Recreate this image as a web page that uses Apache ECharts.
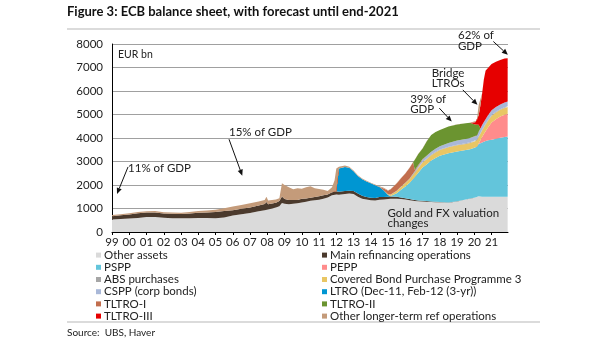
<!DOCTYPE html>
<html>
<head>
<meta charset="utf-8">
<script src="https://cdn.jsdelivr.net/npm/echarts@6/dist/echarts.min.js"></script>
<style>
html, body { margin: 0; padding: 0; background: #fff; }
#chart { width: 605px; height: 341px; }
</style>
</head>
<body>
<div id="chart"></div>
<script>
// Time points (decimal years) shared by every stacked layer
const years = [1999, 1999.5, 2000, 2000.5, 2001, 2001.5, 2002, 2002.5, 2003, 2003.5,
  2004, 2004.5, 2005, 2005.5, 2006, 2006.5, 2007, 2007.5, 2007.85, 2007.95,
  2008.05, 2008.5, 2008.7, 2008.85, 2009, 2009.25, 2009.5, 2009.75, 2010, 2010.25,
  2010.5, 2010.75, 2011, 2011.25, 2011.5, 2011.75, 2011.9, 2012, 2012.15, 2012.5,
  2012.75, 2013, 2013.25, 2013.5, 2013.75, 2014, 2014.25, 2014.5, 2014.75, 2015,
  2015.15, 2015.5, 2015.75, 2016, 2016.25, 2016.45, 2016.55, 2016.75, 2017, 2017.25,
  2017.5, 2017.75, 2018, 2018.5, 2019, 2019.5, 2019.75, 2020.05, 2020.15, 2020.25,
  2020.35, 2020.45, 2020.55, 2020.65, 2020.8, 2021, 2021.25, 2021.5, 2021.75, 2021.93];

// Balance sheet components, EUR bn
const otherAssets = [530, 550, 570, 600, 640, 640, 610, 590, 580, 590,
  600, 600, 590, 620, 700, 760, 810, 880, 930, 950,
  960, 1040, 1100, 1230, 1200, 1180, 1200, 1220, 1260, 1290,
  1330, 1350, 1370, 1420, 1470, 1560, 1600, 1600, 1590, 1620,
  1640, 1620, 1500, 1420, 1380, 1350, 1340, 1370, 1380, 1400,
  1420, 1420, 1400, 1380, 1350, 1330, 1320, 1310, 1300, 1290,
  1280, 1270, 1270, 1250, 1300, 1380, 1420, 1470, 1480, 1520,
  1510, 1500, 1500, 1500, 1500, 1500, 1500, 1500, 1500, 1500];
const mainRefi = [140, 160, 180, 200, 190, 190, 180, 190, 190, 200,
  220, 230, 260, 270, 230, 230, 230, 250, 260, 330,
  220, 200, 220, 280, 200, 180, 160, 140, 150, 140,
  130, 140, 150, 140, 130, 130, 140, 140, 120, 130,
  120, 130, 140, 120, 110, 110, 110, 120, 110, 100,
  90, 80, 70, 60, 50, 45, 40, 35, 30, 25,
  20, 15, 10, 8, 8, 6, 5, 3, 2, 1,
  1, 1, 1, 1, 1, 1, 1, 1, 1, 1];
const ltro3y = [0, 0, 0, 0, 0, 0, 0, 0, 0, 0,
  0, 0, 0, 0, 0, 0, 0, 0, 0, 0,
  0, 0, 0, 0, 0, 0, 0, 0, 0, 0,
  0, 0, 0, 0, 0, 0, 0, 0, 990, 1020,
  970, 830, 740, 700, 660, 610, 540, 430, 280, 70,
  0, 0, 0, 0, 0, 0, 0, 0, 0, 0,
  0, 0, 0, 0, 0, 0, 0, 0, 0, 0,
  0, 0, 0, 0, 0, 0, 0, 0, 0, 0];
const pspp = [0, 0, 0, 0, 0, 0, 0, 0, 0, 0,
  0, 0, 0, 0, 0, 0, 0, 0, 0, 0,
  0, 0, 0, 0, 0, 0, 0, 0, 0, 0,
  0, 0, 0, 0, 0, 0, 0, 0, 0, 0,
  0, 0, 0, 0, 0, 0, 0, 0, 0, 0,
  20, 150, 330, 500, 700, 900, 980, 1180, 1420, 1570,
  1740, 1860, 1960, 2090, 2120, 2100, 2100, 2120, 2150, 2220,
  2270, 2310, 2340, 2370, 2400, 2420, 2470, 2510, 2540, 2560];
const pepp = [0, 0, 0, 0, 0, 0, 0, 0, 0, 0,
  0, 0, 0, 0, 0, 0, 0, 0, 0, 0,
  0, 0, 0, 0, 0, 0, 0, 0, 0, 0,
  0, 0, 0, 0, 0, 0, 0, 0, 0, 0,
  0, 0, 0, 0, 0, 0, 0, 0, 0, 0,
  0, 0, 0, 0, 0, 0, 0, 0, 0, 0,
  0, 0, 0, 0, 0, 0, 0, 0, 0, 30,
  120, 230, 330, 420, 560, 740, 830, 900, 950, 970];
const cbpp3 = [0, 0, 0, 0, 0, 0, 0, 0, 0, 0,
  0, 0, 0, 0, 0, 0, 0, 0, 0, 0,
  0, 0, 0, 0, 0, 0, 0, 0, 0, 0,
  0, 0, 0, 0, 0, 0, 0, 0, 0, 0,
  0, 0, 0, 0, 0, 0, 0, 0, 0, 40,
  60, 100, 120, 140, 160, 175, 180, 195, 210, 220,
  230, 240, 245, 255, 262, 262, 263, 265, 268, 272,
  276, 278, 280, 282, 284, 286, 287, 288, 289, 290];
const absPurchases = [0, 0, 0, 0, 0, 0, 0, 0, 0, 0,
  0, 0, 0, 0, 0, 0, 0, 0, 0, 0,
  0, 0, 0, 0, 0, 0, 0, 0, 0, 0,
  0, 0, 0, 0, 0, 0, 0, 0, 0, 0,
  0, 0, 0, 0, 0, 0, 0, 0, 0, 0,
  5, 10, 12, 15, 18, 20, 20, 22, 23, 24,
  25, 25, 26, 27, 27, 27, 27, 27, 28, 29,
  29, 29, 29, 29, 29, 29, 29, 29, 29, 29];
const cspp = [0, 0, 0, 0, 0, 0, 0, 0, 0, 0,
  0, 0, 0, 0, 0, 0, 0, 0, 0, 0,
  0, 0, 0, 0, 0, 0, 0, 0, 0, 0,
  0, 0, 0, 0, 0, 0, 0, 0, 0, 0,
  0, 0, 0, 0, 0, 0, 0, 0, 0, 0,
  0, 0, 0, 0, 0, 20, 40, 70, 100, 115,
  125, 135, 140, 160, 175, 178, 180, 185, 190, 195,
  200, 200, 200, 200, 200, 200, 200, 200, 200, 200];
const tltro1 = [0, 0, 0, 0, 0, 0, 0, 0, 0, 0,
  0, 0, 0, 0, 0, 0, 0, 0, 0, 0,
  0, 0, 0, 0, 0, 0, 0, 0, 0, 0,
  0, 0, 0, 0, 0, 0, 0, 0, 0, 0,
  0, 0, 0, 0, 0, 0, 0, 0, 80, 150,
  220, 300, 350, 390, 460, 480, 60, 40, 20, 10,
  0, 0, 0, 0, 0, 0, 0, 0, 0, 0,
  0, 0, 0, 0, 0, 0, 0, 0, 0, 0];
const tltro2 = [0, 0, 0, 0, 0, 0, 0, 0, 0, 0,
  0, 0, 0, 0, 0, 0, 0, 0, 0, 0,
  0, 0, 0, 0, 0, 0, 0, 0, 0, 0,
  0, 0, 0, 0, 0, 0, 0, 0, 0, 0,
  0, 0, 0, 0, 0, 0, 0, 0, 0, 0,
  0, 0, 0, 0, 0, 0, 430, 470, 450, 620,
  705, 710, 690, 697, 685, 675, 650, 500, 480, 300,
  0, 0, 0, 0, 0, 0, 0, 0, 0, 0];
const tltro3 = [0, 0, 0, 0, 0, 0, 0, 0, 0, 0,
  0, 0, 0, 0, 0, 0, 0, 0, 0, 0,
  0, 0, 0, 0, 0, 0, 0, 0, 0, 0,
  0, 0, 0, 0, 0, 0, 0, 0, 0, 0,
  0, 0, 0, 0, 0, 0, 0, 0, 0, 0,
  0, 0, 0, 0, 0, 0, 0, 0, 0, 0,
  0, 0, 0, 0, 0, 0, 3, 98, 150, 403,
  974, 1342, 1810, 2060, 2020, 1970, 1930, 1890, 1869, 1848];
const otherLtro = [50, 50, 50, 50, 50, 60, 50, 50, 50, 60,
  70, 90, 100, 120, 150, 160, 180, 170, 170, 220,
  160, 140, 120, 560, 600, 540, 460, 500, 430, 470,
  490, 370, 310, 240, 140, 210, 460, 960, 80, 60,
  50, 40, 40, 40, 30, 30, 30, 30, 30, 20,
  20, 20, 20, 15, 12, 10, 10, 8, 7, 6,
  5, 5, 4, 3, 3, 2, 2, 2, 52, 430,
  20, 10, 10, 8, 6, 4, 3, 2, 2, 2];

// Axis ticks and labels
const yearTicks = [1999, 2000, 2001, 2002, 2003, 2004, 2005, 2006, 2007, 2008, 2009, 2010,
  2011, 2012, 2013, 2014, 2015, 2016, 2017, 2018, 2019, 2020, 2021];
const yearLabels = ['99', '00', '01', '02', '03', '04', '05', '06', '07', '08', '09', '10',
  '11', '12', '13', '14', '15', '16', '17', '18', '19', '20', '21'];

// Stack order from bottom to top
const layers = [
  { name: 'Other assets', data: otherAssets, color: '#dadada' },
  { name: 'Main refinancing operations', data: mainRefi, color: '#4b3a2d' },
  { name: 'LTRO (Dec-11, Feb-12 (3-yr))', data: ltro3y, color: '#0096d2' },
  { name: 'PSPP', data: pspp, color: '#63c5db' },
  { name: 'PEPP', data: pepp, color: '#ff8c8c' },
  { name: 'Covered Bond Purchase Programme 3', data: cbpp3, color: '#e9c664' },
  { name: 'ABS purchases', data: absPurchases, color: '#a6a6a6' },
  { name: 'CSPP (corp bonds)', data: cspp, color: '#a9b8d8' },
  { name: 'TLTRO-I', data: tltro1, color: '#c26e4e' },
  { name: 'TLTRO-II', data: tltro2, color: '#6b9430' },
  { name: 'TLTRO-III', data: tltro3, color: '#e60000' },
  { name: 'Other longer-term ref operations', data: otherLtro, color: '#c49b7a' }
];

const legendLeft = ['Other assets', 'PSPP', 'ABS purchases', 'CSPP (corp bonds)', 'TLTRO-I', 'TLTRO-III'];
const legendRight = ['Main refinancing operations', 'PEPP', 'Covered Bond Purchase Programme 3',
  'LTRO (Dec-11, Feb-12 (3-yr))', 'TLTRO-II', 'Other longer-term ref operations'];

// Callouts: text anchor (left, vertical middle) and arrow, in axis units
const notes = [
  { text: '11% of GDP', at: [1999.93, 2726], from: [1999.93, 2770], to: [1999.29, 1620] },
  { text: '15% of GDP', at: [2005.78, 4260], from: [2005.78, 3949], to: [2006.55, 2398] },
  { text: '39% of\nGDP', at: [2016.28, 5432], from: [2017.97, 5270], to: [2018.69, 4699] },
  { text: 'Bridge\nLTROs', at: [2017.53, 6539], from: [2019.33, 6049], to: [2020.18, 5410] },
  { text: '62% of\nGDP', at: [2019.05, 8147], from: [2021.10, 8107], to: [2021.94, 7540] },
  { text: 'Gold and FX valuation\nchanges', at: [2014.96, 581] }
];

const FONT = 'Lato, "Liberation Sans", sans-serif';
const INK = '#222';

const chart = echarts.init(document.getElementById('chart'), null, { renderer: 'canvas' });

const legendCommon = {
  orient: 'vertical',
  top: 249,
  padding: 0,
  icon: 'rect',
  itemWidth: 5,
  itemHeight: 5,
  itemGap: 0,
  selectedMode: false,
  textStyle: { fontFamily: FONT, fontSize: 11.5, color: INK, lineHeight: 12.2, padding: [0, 0, 0, -2] }
};

const option = {
  animation: false,
  textStyle: { fontFamily: FONT },
  grid: { left: 112, right: 97, top: 44, bottom: 109, containLabel: false },
  xAxis: {
    type: 'value',
    min: 1999,
    max: 2021.95,
    interval: 1,
    axisLine: { show: true, lineStyle: { color: '#000', width: 1 } },
    axisTick: { show: true, length: 3, customValues: yearTicks, lineStyle: { color: '#000' } },
    axisLabel: {
      customValues: yearTicks,
      margin: 4,
      fontSize: 11.5,
      color: INK,
      fontFamily: FONT,
      formatter: v => yearLabels[yearTicks.indexOf(Math.round(v))] || ''
    },
    splitLine: { show: false }
  },
  yAxis: {
    type: 'value',
    min: 0,
    max: 8000,
    interval: 1000,
    axisLine: { show: true, lineStyle: { color: '#000', width: 1 } },
    axisTick: { show: false },
    axisLabel: { margin: 9, fontSize: 11.5, color: INK, fontFamily: FONT, formatter: v => String(v) },
    splitLine: { show: true, lineStyle: { color: '#a0a0a0', width: 1 } }
  },
  legend: [
    Object.assign({}, legendCommon, { left: 96, data: legendLeft }),
    Object.assign({}, legendCommon, { left: 322, data: legendRight })
  ],
  // Each point is [amount, year] so that the stacked dimension is the amount
  series: layers.map(l => ({
    name: l.name,
    type: 'line',
    stack: 'total',
    symbol: 'none',
    smooth: false,
    color: l.color,
    itemStyle: { color: l.color },
    lineStyle: { width: 0 },
    areaStyle: { color: l.color, opacity: 1 },
    silent: true,
    encode: { x: 1, y: 0 },
    data: years.map((y, i) => [l.data[i], y])
  }))
};

chart.setOption(option);

// Title, rules, source line and callouts drawn on top of the grid
const graphics = [
  { type: 'text', left: 67, top: 5, style: { text: 'Figure 3: ECB balance sheet, with forecast until end-2021',
      font: 'bold 13px ' + FONT, fill: '#111' } },
  { type: 'line', shape: { x1: 67, y1: 29, x2: 540, y2: 29 }, style: { stroke: '#cfcfcf', lineWidth: 1.5 } },
  { type: 'line', shape: { x1: 67, y1: 322, x2: 540, y2: 322 }, style: { stroke: '#cfcfcf', lineWidth: 1.5 } },
  { type: 'text', left: 67, top: 328, style: { text: 'Source:  UBS, Haver', font: '10px ' + FONT, fill: INK } },
  { type: 'text', left: 118, top: 49, style: { text: 'EUR bn', font: '10.5px ' + FONT, fill: INK } }
];

notes.forEach(n => {
  const p = chart.convertToPixel({ gridIndex: 0 }, n.at);
  graphics.push({
    type: 'text', x: p[0], y: p[1], z: 50,
    style: { text: n.text, font: '11.5px ' + FONT, fill: INK, lineHeight: 10.8,
      textAlign: 'left', textVerticalAlign: 'middle' }
  });
  if (n.from) {
    const a = chart.convertToPixel({ gridIndex: 0 }, n.from);
    const b = chart.convertToPixel({ gridIndex: 0 }, n.to);
    const dx = b[0] - a[0], dy = b[1] - a[1];
    const len = Math.sqrt(dx * dx + dy * dy);
    const ux = dx / len, uy = dy / len;
    const hl = 6, hw = 2.6;
    const bx = b[0] - ux * hl, by = b[1] - uy * hl;
    graphics.push({ type: 'line', z: 50, shape: { x1: a[0], y1: a[1], x2: bx, y2: by },
      style: { stroke: '#111', lineWidth: 1 } });
    graphics.push({ type: 'polygon', z: 50, shape: { points: [
        [b[0], b[1]], [bx - uy * hw, by + ux * hw], [bx + uy * hw, by - ux * hw]] },
      style: { fill: '#111' } });
  }
});

chart.setOption({ graphic: graphics });
</script>
</body>
</html>
